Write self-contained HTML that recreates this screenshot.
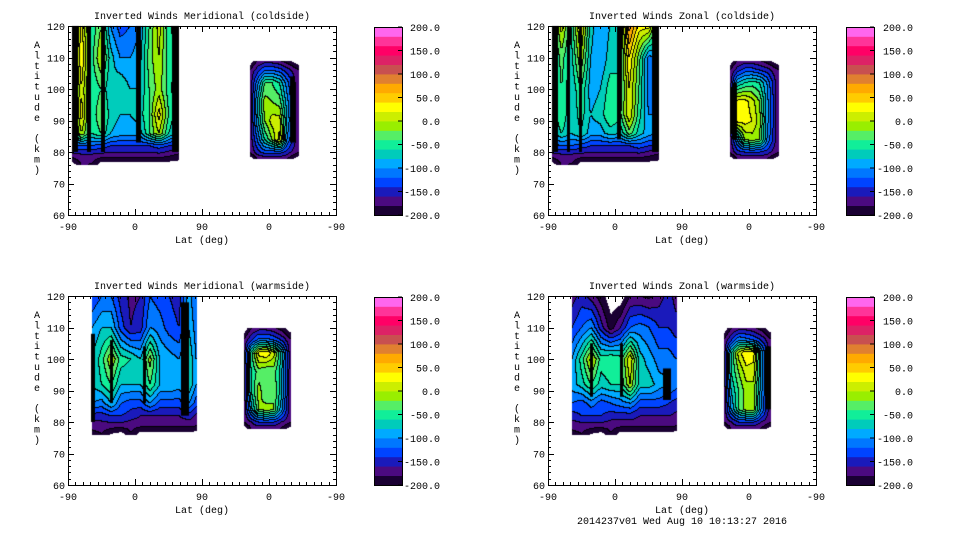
<!DOCTYPE html>
<html><head><meta charset="utf-8"><style>
html,body{margin:0;padding:0;background:#fff;}
#wrap{position:relative;width:960px;height:540px;overflow:hidden;}
canvas,svg{position:absolute;left:0;top:0;}
text{font-family:"Liberation Mono",monospace;font-size:10px;fill:#000;}
</style></head><body>
<div id="wrap">
<canvas id="cv" width="960" height="540"></canvas>
<svg id="sv" width="960" height="540"></svg>
</div>
<script>
// ---- data ----
const bandColors=["#1a0033","#4b0a80","#1a1abb","#0044ff","#0077ff","#00aaff","#00ccbb","#11ee99","#55ee66","#99ee00","#ccee00","#ffff00","#ffcc00","#ffaa00","#e08030","#c85050","#dd2266","#ff0066","#ff3399","#ff66ee"];
const cbTicks=[200,150,100,50,0,-50,-100,-150,-200];
const yTicks=[60,70,80,90,100,110,120];
const xTickLabels=["-90","0","90","0","-90"];
const titles=["Inverted Winds Meridional (coldside)","Inverted Winds Zonal (coldside)","Inverted Winds Meridional (warmside)","Inverted Winds Zonal (warmside)"];

const colsA=[5,18,31,44,57,70,83,96,109,122,135,148];
const rowsA=[76,79,82,86,92,100,110,120];
const colsB=[244,254,264,274,284,294,309];
const rowsB=[78,80,84,90,96,102,106,109];
const colsC=[32,45,58,71,84,97,110,123,136,149,162,172];
const colsD=[236,246,256,266,276,286,299];
const rowsD=[78,80,84,90,96,102,106,110];

const tlLeft=[
[-215,-178,-182,-215,-215,-215,-215,-215,-215,-215,-215,-215],
[-168,-165,-165,-168,-168,-168,-168,-168,-170,-168,-175,-185],
[-130,-120,-120,-130,-140,-140,-140,-140,-140,-130,-140,-150],
[-80,0,-60,-40,-80,-90,-90,-90,-40,0,-60,-90],
[-70,30,-60,-20,-70,-80,-80,-70,-40,30,-40,-80],
[-70,20,-60,-40,-80,-60,-80,-80,-40,-10,-50,-80],
[-60,40,-50,0,-70,-100,-100,-90,-30,0,-50,-70],
[-80,30,-60,-20,-100,-130,-120,-100,-40,10,-50,-80]];
const tlRight=[
[-215,-178,-172,-172,-172,-178,-215],
[-178,-150,-130,-130,-130,-150,-178],
[-178,-120,-60,-20,30,-100,-178],
[-178,-90,-20,10,10,-80,-178],
[-178,-80,-10,-20,-30,-90,-178],
[-178,-110,-40,-40,-60,-110,-178],
[-178,-150,-120,-120,-130,-150,-178],
[-215,-178,-172,-172,-178,-190,-215]];
const trLeft=[
[-215,-178,-182,-215,-215,-215,-215,-215,-215,-215,-215,-215],
[-168,-165,-165,-168,-168,-168,-168,-168,-170,-168,-175,-185],
[-130,-120,-120,-130,-140,-140,-140,-140,-140,-130,-140,-150],
[-80,-60,-80,-60,-90,-90,-70,-80,-30,-70,-90,-100],
[-80,-40,-80,-50,-80,-70,-40,-50,20,-50,-100,-100],
[-90,-40,-80,-40,-90,-80,-50,-60,20,-40,-110,-100],
[-80,-30,-70,0,-80,-100,-70,-60,40,-30,-110,-90],
[-80,10,-60,30,-70,-100,-80,-70,90,30,30,-80]];
const trRight=[
[-215,-178,-172,-172,-172,-178,-215],
[-178,-150,-140,-140,-140,-150,-178],
[-178,-100,-20,-10,-20,-100,-178],
[-178,30,30,20,-10,-90,-178],
[-178,30,30,10,-20,-90,-178],
[-178,-80,-60,-50,-60,-100,-178],
[-178,-150,-130,-130,-140,-150,-178],
[-215,-178,-172,-172,-178,-190,-215]];
const blLeft=[
[-188,-182,-205,-215,-182,-215,-215,-215,-215,-215,-215,-215],
[-172,-168,-168,-168,-172,-172,-172,-172,-172,-172,-172,-178],
[-150,-150,-140,-140,-150,-160,-160,-160,-160,-160,-150,-165],
[-100,-110,-80,-120,-130,-130,-100,-130,-130,-130,-100,-130],
[-80,-60,-40,-80,-80,-80,-40,-80,-80,-90,-60,-100],
[-80,-50,0,-50,-60,-80,-10,-80,-90,-100,-60,-100],
[-100,-80,-80,-130,-160,-150,-100,-110,-130,-140,-80,-110],
[-140,-120,-120,-150,-165,-160,-120,-130,-140,-150,-90,-120]];
const blRight=[
[-215,-178,-172,-172,-172,-182,-215],
[-178,-160,-140,-140,-140,-160,-178],
[-178,-90,-20,-10,-20,-90,-178],
[-178,-60,-10,-40,-20,-70,-178],
[-178,-60,-30,-40,-30,-70,-178],
[-178,-50,30,40,10,-60,-178],
[-178,-140,-110,-110,-120,-140,-178],
[-215,-182,-172,-172,-178,-190,-215]];
const brLeft=[
[-188,-182,-205,-215,-182,-215,-215,-215,-215,-215,-215,-215],
[-172,-168,-168,-168,-172,-172,-172,-172,-172,-172,-172,-178],
[-150,-140,-140,-140,-150,-150,-150,-160,-160,-160,-160,-165],
[-120,-130,-110,-130,-120,-110,-100,-130,-130,-130,-140,-150],
[-90,-70,-40,-70,-60,-60,0,-70,-70,-90,-100,-110],
[-100,-50,10,-50,-40,-50,20,-70,-90,-110,-110,-120],
[-140,-120,-100,-150,-190,-160,-120,-110,-120,-140,-140,-150],
[-170,-150,-170,-190,-215,-215,-180,-180,-185,-170,-150,-170]];
const brRight=[
[-215,-178,-172,-172,-172,-182,-215],
[-178,-160,-140,-140,-140,-160,-178],
[-178,-100,-40,-10,-10,-100,-178],
[-178,-80,-40,-10,-10,-90,-178],
[-178,-60,-20,10,10,-80,-178],
[-178,-60,10,40,30,-80,-178],
[-178,-140,-100,-110,-120,-140,-178],
[-215,-182,-172,-172,-178,-190,-215]];
// stripes of dense contours: [lat-axis u, width px, alt low, alt high]
const tlStripes=[[9,6,80,120],[28,4,80,120],[47,4,80,120],[95,5,83,120],[144,7,80,120],[302,5,83,104]];
const trStripes=[[9,6,80,120],[28,3,80,120],[43,3,80,120],[95,4,84,120],[144,7,80,120],[250,5,84,102]];
const blStripes=[[34,4,80,108],[59,3,86,106],[103,3,86,104],[157,8,82,118]];
const brStripes=[[58,3,88,105],[99,3,88,105],[160,8,87,97],[296,6,84,104]];

// ---- layout ----
const panels=[
 {x0:68,y0:26,cb:374,cbl:440,t:0,blobs:[[colsA,rowsA,tlLeft],[colsB,rowsB,tlRight]],stripes:tlStripes},
 {x0:548,y0:26,cb:846,cbl:913,t:1,blobs:[[colsA,rowsA,trLeft],[colsB,rowsB,trRight]],stripes:trStripes},
 {x0:68,y0:296,cb:374,cbl:440,t:2,blobs:[[colsC,rowsA,blLeft],[colsD,rowsD,blRight]],stripes:blStripes},
 {x0:548,y0:296,cb:846,cbl:913,t:3,blobs:[[colsC,rowsA,brLeft],[colsD,rowsD,brRight]],stripes:brStripes}];
const PW=268,PH=189;
function xs(p,u){return p.x0+u*PW/360;}
function ys(p,a){return p.y0+(120-a)*PH/60;}
function hex(c){return [parseInt(c.slice(1,3),16),parseInt(c.slice(3,5),16),parseInt(c.slice(5,7),16)];}
const rgb=bandColors.map(hex);

const cv=document.getElementById('cv');const ctx=cv.getContext('2d');
const img=ctx.createImageData(960,540);
for(let i=0;i<img.data.length;i++)img.data[i]=255;
function interp(cols,rows,g,u,a){
 let i=0;while(i<cols.length-2&&u>cols[i+1])i++;
 let j=0;while(j<rows.length-2&&a>rows[j+1])j++;
 const tu=Math.min(1,Math.max(0,(u-cols[i])/(cols[i+1]-cols[i])));
 const ta=Math.min(1,Math.max(0,(a-rows[j])/(rows[j+1]-rows[j])));
 const v0=g[j][i]*(1-tu)+g[j][i+1]*tu, v1=g[j+1][i]*(1-tu)+g[j+1][i+1]*tu;
 return v0*(1-ta)+v1*ta;
}
function band(v){if(v<-200)return -1;return Math.min(19,Math.floor((v+200)/20));}
panels.forEach(p=>{
 p.blobs.forEach(([cols,rows,g])=>{
  const px0=Math.floor(xs(p,cols[0])),px1=Math.ceil(xs(p,cols[cols.length-1]));
  const py0=Math.floor(ys(p,rows[rows.length-1])),py1=Math.ceil(ys(p,rows[0]));
  const W=px1-px0+2,H=py1-py0+2;const B=[];
  for(let y=0;y<H;y++){B.push([]);for(let x=0;x<W;x++){
   const u=(px0+x-p.x0)*360/PW,a=120-(py0+y-p.y0)*60/PH;
   const inside=u>=cols[0]&&u<=cols[cols.length-1]&&a>=rows[0]&&a<=rows[rows.length-1];
   B[y].push(inside?band(interp(cols,rows,g,u,a)):-1);}}
  for(let y=0;y<H-1;y++)for(let x=0;x<W-1;x++){
   const b=B[y][x];if(b<0)continue;
   const k=((py0+y)*960+(px0+x))*4;
   let c=rgb[b];
   if((B[y][x+1]!==b&&B[y][x+1]>=0)||(B[y+1][x]!==b&&B[y+1][x]>=0))c=[0,0,0];
   img.data[k]=c[0];img.data[k+1]=c[1];img.data[k+2]=c[2];
  }
 });
});
ctx.putImageData(img,0,0);
panels.forEach(p=>{p.stripes.forEach(s=>{
 ctx.fillStyle='#000';const x=xs(p,s[0]);
 ctx.fillRect(Math.round(x-s[1]/2),ys(p,s[3]),s[1],ys(p,s[2])-ys(p,s[3]));});});

// ---- axes (svg) ----
const NS="http://www.w3.org/2000/svg";const sv=document.getElementById('sv');
function el(tag,attrs,txt){const e=document.createElementNS(NS,tag);for(const k in attrs)e.setAttribute(k,attrs[k]);if(txt!==undefined)e.textContent=txt;sv.appendChild(e);return e;}
panels.forEach((p,pi)=>{
 let e=el('rect',{x:p.x0+0.5,y:p.y0+0.5,width:PW,height:PH,fill:'none',stroke:'#000','stroke-width':1});
 
 
 e=el('text',{x:p.x0+PW/2,y:p.y0-7,'text-anchor':'middle'},titles[p.t]);
 
 
 for(let a=60;a<=120;a+=2){const y=Math.round(ys(p,a))+0.5;const L=a%10===0?6:3;
  el('line',{x1:p.x0,y1:y,x2:p.x0+L,y2:y,stroke:'#000'});el('line',{x1:p.x0+PW,y1:y,x2:p.x0+PW-L,y2:y,stroke:'#000'});}
 yTicks.forEach(a=>{e=el('text',{x:p.x0-3,y:ys(p,a)+4,'text-anchor':'end'},String(a));
  
  });
 for(let u=0;u<=360;u+=10){const x=Math.round(xs(p,u))+0.5;const L=u%90===0?6:3;
  el('line',{x1:x,y1:p.y0+PH,x2:x,y2:p.y0+PH-L,stroke:'#000'});el('line',{x1:x,y1:p.y0,x2:x,y2:p.y0+L,stroke:'#000'});}
 xTickLabels.forEach((t,i)=>{e=el('text',{x:xs(p,i*90),y:p.y0+PH+15,'text-anchor':'middle'},t);
  
  });
 e=el('text',{x:p.x0+PW/2,y:p.y0+PH+28,'text-anchor':'middle'},'Lat (deg)');
 
 
 const lab='Altitude (km)';
 for(let i=0;i<lab.length;i++){e=el('text',{x:p.x0-31,y:p.y0+22+i*10.4,'text-anchor':'middle'},lab[i]);
  
  }
 const cy0=p.y0+1,ch=188,cw=28;
 bandColors.forEach((c,i)=>{e=el('rect',{x:p.cb,y:cy0+ch-(i+1)*ch/20,width:cw,height:ch/20+0.4,fill:c});
  
  });
 el('rect',{x:p.cb+0.5,y:cy0+0.5,width:cw,height:ch,fill:'none',stroke:'#000'});
 cbTicks.forEach(v=>{const y=cy0+ch*(200-v)/400;
  el('line',{x1:p.cb+cw-4,y1:y,x2:p.cb+cw,y2:y,stroke:'#000'});
  e=el('text',{x:p.cbl,y:y+4,'text-anchor':'end'},v.toFixed(1));
  
  });
});
const ft=el('text',{x:682,y:524,'text-anchor':'middle'},'2014237v01 Wed Aug 10 10:13:27 2016');


</script>
</body></html>
